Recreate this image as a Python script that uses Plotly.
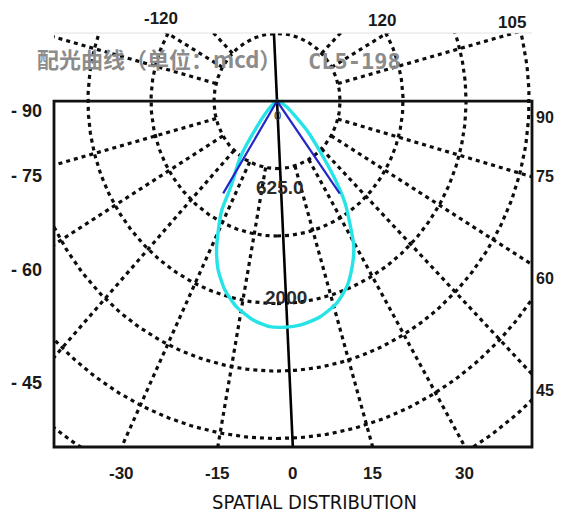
import numpy as np
import plotly.graph_objects as go

# Luminous intensity pattern: angle from the optical axis (deg) and intensity (mcd)
CYAN_DEG = [-49, -47, -40, -35, -30, -28.5, -26, -23.5, -20.5, -16.5, -12, -6.5, -2,
            2, 6.5, 12, 17.5, 22, 26, 29.5, 32.5, 35.5, 38, 41.5, 47.5, 61, 66]
CYAN_MCD = [0, 130, 330, 675, 980, 1225, 1415, 1605, 1780, 1945, 2075, 2180, 2230,
            2235, 2225, 2180, 2095, 1975, 1815, 1650, 1435, 1240, 1030, 735, 425, 115, 0]

# Half-intensity cone (two rays from the source)
BLUE_DEG = [-32, 0, 36]
BLUE_MCD = [1075, 0, 1130]

# Polar grid
RING_MCD = [667, 1333, 2000, 2667, 3333, 4000]
SPOKE_DEG = [-75, -59, -43, -25.7, -10.4, 16.5, 30.2, 45, 59.1, 74.5]
UPPER_SPOKE_DEG = [-135, -120, -105, 105, 120, 135]
AXIS_DEG = 2.8

# Labels
BOTTOM_TICKS = ["-30", "-15", "0", "15", "30"]
BOTTOM_TICK_SPOKES = [-25.7, -10.4, AXIS_DEG, 16.5, 30.2]
LEFT_TICKS = ["- 90", "- 75", "- 60", "- 45"]
RIGHT_TICKS = ["90", "75", "60", "45"]
TOP_TICKS = ["-120", "120", "105"]
RING_LABELS = ["0", "625.0", "2000"]
TITLE = "配光曲线（单位：mcd）"
MODEL = "CL5-198"
X_TITLE = "SPATIAL DISTRIBUTION"

# Figure geometry (pixels)
W, H = 563, 515
ML, MR, MT, MB = 54, 31, 33, 68
PW, PH = W - ML - MR, H - MT - MB
X_MIN, X_MAX = -2360, 2698
Y_MIN, Y_MAX = -3417, 672


def polar_xy(deg, r):
    t = np.radians(np.asarray(deg, float))
    r = np.asarray(r, float)
    return r * np.sin(t), -r * np.cos(t)


def px_to_paper(px, py):
    return (px - ML) / PW, (H - MB - py) / PH


fig = go.Figure()

grid_line = dict(color="#0d0d0d", width=3.2, dash="4px,4px")

# rings
gx, gy = [], []
full = np.arange(0, 361, 1.0)
for r in RING_MCD:
    x, y = polar_xy(full, np.full_like(full, r))
    gx += list(x) + [None]
    gy += list(y) + [None]
fig.add_trace(go.Scatter(x=gx, y=gy, mode="lines", line=grid_line,
                         hoverinfo="skip", showlegend=False))

# spokes
sx, sy = [], []
for d in SPOKE_DEG:
    x, y = polar_xy([d, d], [RING_MCD[0], 6000])
    sx += list(x) + [None]
    sy += list(y) + [None]
for d in UPPER_SPOKE_DEG:
    x, y = polar_xy([d, d], [RING_MCD[0], 3500])
    sx += list(x) + [None]
    sy += list(y) + [None]
fig.add_trace(go.Scatter(x=sx, y=sy, mode="lines", line=grid_line,
                         hoverinfo="skip", showlegend=False))

# optical axis
ax_x, ax_y = polar_xy([AXIS_DEG, AXIS_DEG], [-900, 4200])
fig.add_trace(go.Scatter(x=ax_x, y=ax_y, mode="lines",
                         line=dict(color="#000000", width=2.6),
                         hoverinfo="skip", showlegend=False))

# intensity curve
cx, cy = polar_xy(CYAN_DEG, CYAN_MCD)
fig.add_trace(go.Scatter(x=cx, y=cy, mode="lines",
                         line=dict(color="#25e3e6", width=3.4, shape="spline", smoothing=0.6),
                         hoverinfo="skip", showlegend=False))

# cone rays
bx, by = polar_xy(BLUE_DEG, BLUE_MCD)
fig.add_trace(go.Scatter(x=bx, y=by, mode="lines",
                         line=dict(color="#2626c8", width=2.2),
                         hoverinfo="skip", showlegend=False))

# frame below the source level
box_top = (0 - Y_MIN) / (Y_MAX - Y_MIN)
shapes = [
    dict(type="rect", xref="paper", yref="paper", x0=0, x1=1, y0=0, y1=box_top,
         line=dict(color="#111111", width=2.8), layer="above"),
    dict(type="line", xref="paper", yref="paper", x0=0, x1=1, y0=1, y1=1,
         line=dict(color="#e2e2e2", width=1)),
]

num_font = dict(family="Liberation Sans, Arial, sans-serif", size=17,
                color="#1a1a1a", weight="bold")
left_font = dict(num_font, size=18)
side_font = dict(num_font, size=16)
ann = []


def label(text, px, py, font, xanchor="center"):
    x, y = px_to_paper(px, py)
    ann.append(dict(text=text, x=x, y=y, xref="paper", yref="paper",
                    xanchor=xanchor, yanchor="middle", showarrow=False, font=font))


label(TITLE, 35, 58, dict(family="Noto Sans CJK SC", size=22, color="#8c8c8c",
                          weight="bold"), xanchor="left")
label(MODEL, 306, 62, dict(family="DejaVu Sans Mono", size=22, color="#8c8c8c",
                           weight="bold"), xanchor="left")

for t, px, py in zip(TOP_TICKS, [161, 382, 512], [18, 20, 23]):
    label(t, px, py, num_font)
for t, py in zip(LEFT_TICKS, [111, 176, 270, 383]):
    label(t, 26, py, left_font)
for t, py in zip(RIGHT_TICKS, [117, 176, 278, 390]):
    label(t, 534, py, side_font, xanchor="left")

# bottom labels sit where their spokes meet the lower frame
for t, d in zip(BOTTOM_TICKS, BOTTOM_TICK_SPOKES):
    xd = np.tan(np.radians(d)) * (-Y_MIN)
    ann.append(dict(text=t, x=xd, y=px_to_paper(0, 473)[1], xref="x", yref="paper",
                    xanchor="center", yanchor="middle", showarrow=False, font=num_font))

label(X_TITLE, 314, 502, dict(family="DejaVu Sans Condensed, DejaVu Sans Mono", size=20,
                              color="#111111"))

label(RING_LABELS[0], 277, 115, dict(family="Liberation Sans", size=13, color="#333333"))
label(RING_LABELS[1], 280, 187, dict(family="Liberation Sans", size=19, color="#2a2a2a",
                                     weight="bold"))
label(RING_LABELS[2], 286, 297, dict(family="Liberation Sans", size=19, color="#2a2a2a",
                                     weight="bold"))

fig.update_layout(
    width=W, height=H,
    margin=dict(l=ML, r=MR, t=MT, b=MB),
    paper_bgcolor="white", plot_bgcolor="white",
    xaxis=dict(range=[X_MIN, X_MAX], visible=False, fixedrange=True),
    yaxis=dict(range=[Y_MIN, Y_MAX], visible=False, fixedrange=True),
    shapes=shapes, annotations=ann, showlegend=False,
)

fig.write_html("out.html")
